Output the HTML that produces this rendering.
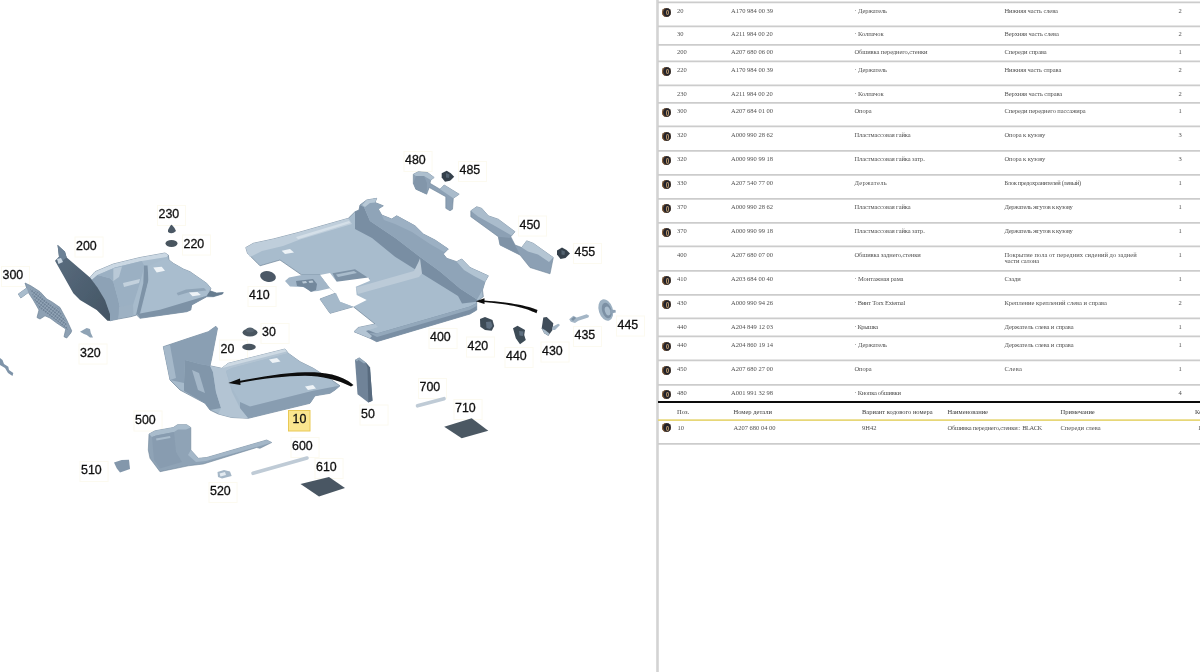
<!DOCTYPE html>
<html lang="ru"><head><meta charset="utf-8"><title>EPC</title>
<style>
html,body{margin:0;padding:0;background:#fff;}
body{width:1200px;height:672px;position:relative;overflow:hidden;font-family:"Liberation Sans",sans-serif;}
#dg{position:absolute;left:0;top:0;width:660px;height:672px;}
.tbl{position:absolute;left:0;top:0;width:1200px;height:672px;font-family:"Liberation Serif",serif;color:#505050;}
.vl{position:absolute;left:656.4px;top:0;width:2.2px;height:672px;background:#d2d2d2;}
.lines{position:absolute;left:0;top:0;}
.hl{position:absolute;left:658px;width:542px;height:1.5px;background:#c9c9c9;}
.hl.blk{background:#111;height:1.8px;}
.hl.yel{background:#e6d36c;height:1.6px;}
.t{position:absolute;font-size:6.5px;line-height:8px;white-space:nowrap;letter-spacing:0;}
.t.h{color:#3a3a3a;}
.t.n{letter-spacing:-0.1px;}
.t.n2{letter-spacing:-0.22px;}
.t.bk{letter-spacing:-0.55px;}
.ic{position:absolute;left:662.4px;width:9px;height:9px;border-radius:50%;background:#22222b;box-shadow:inset 1.1px 0 0.7px 0 #96693a, inset -0.4px 0 0.5px 0 #4a3a2a;}
.ic i{position:absolute;left:3.5px;top:2.3px;width:1.6px;height:3.4px;border-radius:50%;border:0.8px solid #b39267;background:#23232c;}
.blur{filter:blur(0.45px);}
</style></head><body>
<div id="dg"><svg width="660" height="672" viewBox="0 0 660 672">
<defs>
<linearGradient id="gFloor" x1="0" y1="0" x2="1" y2="1"><stop offset="0" stop-color="#b4c6d5"/><stop offset="1" stop-color="#93a8bb"/></linearGradient>
<linearGradient id="gDark" x1="0" y1="0" x2="1" y2="1"><stop offset="0" stop-color="#5b6e80"/><stop offset="1" stop-color="#435464"/></linearGradient>
<linearGradient id="gWall" x1="0" y1="0" x2="0" y2="1"><stop offset="0" stop-color="#8da2b6"/><stop offset="1" stop-color="#71869a"/></linearGradient>
<pattern id="mesh" width="2.6" height="2.6" patternUnits="userSpaceOnUse" patternTransform="rotate(38)"><rect width="2.6" height="2.6" fill="#6f8397"/><path d="M0,0.300 H2.600 M0.300,0 V2.600" stroke="#a3b5c6" stroke-width="0.600"/></pattern>
<filter id="soft"><feGaussianBlur stdDeviation="0.55"/></filter>
<filter id="soft2" x="-5%" y="-5%" width="110%" height="110%"><feGaussianBlur stdDeviation="0.45"/></filter>
</defs>
<g fill="none" stroke="#fcfaf0" stroke-width="1">
<rect x="1.5" y="266.5" width="28" height="20"/>
<rect x="75" y="237" width="28" height="20"/>
<rect x="157.500" y="205.500" width="28" height="20"/>
<rect x="182.5" y="235" width="28" height="20"/>
<rect x="248" y="286.500" width="28" height="20"/>
<rect x="261" y="323.5" width="28" height="20"/>
<rect x="219.5" y="340" width="28" height="20"/>
<rect x="79" y="344" width="28" height="20"/>
<rect x="134" y="411" width="28" height="20"/>
<rect x="80" y="461.500" width="28" height="20"/>
<rect x="209" y="482.500" width="28" height="20"/>
<rect x="291" y="437.500" width="28" height="20"/>
<rect x="315" y="458.500" width="28" height="20"/>
<rect x="360" y="405" width="28" height="20"/>
<rect x="418.500" y="378.500" width="28" height="20"/>
<rect x="454" y="399.500" width="28" height="20"/>
<rect x="404" y="151.500" width="28" height="20"/>
<rect x="458.500" y="161.500" width="28" height="20"/>
<rect x="518.500" y="216" width="28" height="20"/>
<rect x="573.500" y="243.500" width="28" height="20"/>
<rect x="429" y="328.500" width="28" height="20"/>
<rect x="466.500" y="337" width="28" height="20"/>
<rect x="505" y="347.500" width="28" height="20"/>
<rect x="541" y="342" width="28" height="20"/>
<rect x="573.500" y="326.500" width="28" height="20"/>
<rect x="616.500" y="316" width="28" height="20"/>
</g>
<g filter="url(#soft)">
<!-- PART 300 -->
<g id="p300">
<path d="M25,283 L30.800,285.800 L40,291.700 L46.700,299 L51.700,301.700 L60,307.500 L66.700,320 L71.700,330.800 L70.800,333 L66.700,338 L64,336.700 L65.800,329 L56.700,323 L50,318 L45,315.800 L40,319 L37,317.500 L39,310 L33.300,300 L28.300,292.500 L20.800,298 L18.300,294 L26.700,288 Z" fill="#8da0b3" stroke="#6f8498" stroke-width="0.7" stroke-linejoin="round"/>
<path d="M30,288 L39,293 L46,301 L59,309 L66,322 L68,330 L57,321 L47,314 L40,309 L34,299 Z" fill="url(#mesh)"/>
<path d="M18.300,294 L26.700,288 L28.300,292.500 L20.800,298 Z" fill="#a9bccc"/>
</g>
<!-- small clip far left -->
<path d="M0,358 L2.500,360 L4,364 L8.300,366.700 L9,370 L13.300,373 L12.500,376 L8,373 L5,368 L0,365 Z" fill="#7f94a9"/>
<!-- PART 320 -->
<path d="M80,331.700 L86.700,328 L90,329 L90.800,333 L93,337.500 L90,337.500 L86.700,335 L84,334 Z" fill="#8fa3b5"/>
<!-- PART 200 -->
<g id="p200">
<path d="M90,277.5 L95,271.7 L113.3,264 L140,257.5 L165,253 L168.3,255 L169,260 L173.3,263.3 L183.3,269 L190,271.7 L206.7,283.3 L210.8,288.3 L210,290.8 L216.700,293 L223.3,292.5 L222.500,294 L213.3,296.7 L206.7,296.7 L191.7,305 L190.8,310 L186.7,311.700 L140,318.3 L136.7,315 L130.8,316.7 L118.3,319 L110,320.8 L105,300 L97.5,287.5 Z" fill="#a7bbcc" stroke="#6f8498" stroke-width="0.7" stroke-linejoin="round"/>
<!-- rim -->
<path d="M90,277.5 L95,271.7 L113.3,264 L140,257.5 L165,253 L168.3,255 L166.7,257 L141.700,261 L115,267.5 L97.5,275 L91.700,280 Z" fill="#cbd8e3"/>
<!-- left inner wall -->
<path d="M91.700,280 L97.5,275 L110,278.3 L113.3,281.700 L118.3,300 L120,308.3 L118.3,319 L110,320.8 L110,314 L105,300 L97.5,287.5 Z" fill="#8da2b6"/>
<!-- middle facets -->
<path d="M97.5,275 L115,267.5 L141.700,261 L144.500,266 L140,283 L133,305 L120,308.3 L118.3,300 L113.3,281.700 L110,278.3 Z" fill="#9bb0c3"/>
<path d="M113.3,268.5 L122,266.5 L119,277 L113.3,281 Z" fill="#b9c9d7"/>
<path d="M123,283 L140,279 L139,283 L124,287 Z" fill="#c3d1dd"/>
<path d="M119,307 L133,304 L133.500,315.500 L118.500,318.500 Z" fill="#9db1c3"/>
<!-- tunnel ridge -->
<path d="M144,265.500 L147.500,265.500 L148.500,280 L140,313.500 L136,315 L143.300,283.300 Z" fill="#7e93a7"/>
<!-- right floor -->
<path d="M148.500,266 L166.700,258 L169,260 L173.3,263.3 L183.3,269 L190,271.7 L206.7,283.3 L210.8,288.3 L208,292 L206.700,295.800 L190,300.800 L160,309.700 L141,313.500 L148.500,281 Z" fill="#a9bdce"/>
<path d="M176.700,293 L186,289.500 L204,288 L206.500,290.500 L188,292.500 L178,295.500 Z" fill="#90a5b8"/>
<!-- front band -->
<path d="M137.500,314 L160,309.700 L190,300.800 L206.700,295.800 L213.3,296.7 L206.7,296.7 L191.7,305 L190.8,310 L186.7,311.700 L140,318.3 Z" fill="#7d92a6"/>
<path d="M210,290.800 L216.700,293 L223.3,292.5 L222.500,294 L213.3,296.7 L206.700,295.800 Z" fill="#667b8f"/>
<path d="M153.3,267.5 L161.700,266.700 L165,270.800 L156.700,272.500 Z" fill="#eef3f7"/>
<path d="M189,292.500 L197.500,292 L200.800,295 L192.500,296.300 Z" fill="#eef3f7"/>
<!-- dark panel -->
<path d="M57.5,244.700 L65,251.700 L66.700,257.500 L90,277.500 L97.500,287.500 L105,300 L110,314 L110,320.800 L107.500,320.800 L96.700,310 L80,300 L73.3,293.3 L55,260.800 L59,256.700 Z" fill="url(#gDark)"/>
<path d="M57.5,244.700 L65,251.700 L66.700,257.500 L62,261 L57,259.500 L59,256.700 Z" fill="#6c8195"/>
<path d="M57,259 L61,258 L63,262 L58.500,264 Z" fill="#c9d6e1"/>
</g>
<!-- clips 230 220 -->
<path d="M168,230 Q171,224 172,225 Q175,228 176,231 Q172,235 168,232 Z" fill="#4c5965"/>
<ellipse cx="171.5" cy="243.5" rx="6" ry="3.4" fill="#48545f"/>
<!-- clip 410, 30, 20 -->
<ellipse cx="268" cy="276.5" rx="8" ry="5.3" transform="rotate(12 268 276.5)" fill="#4b5966"/>
<ellipse cx="250" cy="332.5" rx="7.5" ry="4" fill="#485560"/>
<ellipse cx="250" cy="330" rx="4" ry="2.5" fill="#56646f"/>
<ellipse cx="249" cy="347" rx="6.8" ry="3.3" fill="#485560"/>

<!-- PART 400 -->
<g id="p400">
<!-- base floor -->
<path d="M245.800,247.500 L253.300,243.300 L273.300,239 L298.300,232.500 L348.300,218.300 L355,211.700 L359,210 L360,205 L366.700,200 L376.700,198.300 L375,202.500 L383.300,205.800 L378.300,209 L381.700,215 L391.700,219 L396.700,215.800 L415,225.800 L423.300,234 L435,240 L448.300,249 L443.300,254 L446.700,258.300 L456.700,261.700 L461.700,259 L470,267.500 L488.300,275.800 L485,281.700 L482.500,290 L483.300,296.700 L476.700,301.700 L476.700,310 L470,314 L376.700,341.700 L370,338.300 L354,331.700 L358.300,327.500 L375,324 L353.300,306.700 L330,313.300 L320,299 L336,293 L330,288.300 L320,275 L301.700,275 L280,260 L260,265.800 L257.500,263.300 L247.500,253.300 Z" fill="#a8bccd" stroke="#6f8498" stroke-width="0.7" stroke-linejoin="round"/>
<!-- left sill lighter -->
<path d="M245.800,247.500 L253.300,243.300 L273.300,239 L298.300,232.500 L348.300,218.300 L352,224 L300,239.500 L283,246 L262,251 L250,257 L247.500,253.300 Z" fill="#bfcedb"/>
<path d="M296,237 L349,221 L350.500,223 L298,239.300 Z" fill="#d4dfe8"/>
<!-- rear wall vertical face -->
<path d="M355,211.700 L359,210 L360,205 L364,207 L370,221 L396,238.500 L420,257 L440,271.500 L460,288.500 L477,299.500 L476.700,301.700 L462,303.500 L458,296 L421.700,273.500 L395,256.700 L372,238 L355,229 Z" fill="#798ea3"/>
<!-- rear wall top ridge (lighter) -->
<path d="M360,205 L366.700,200 L376.700,198.300 L375,202.500 L383.300,205.800 L378.300,209 L381.700,215 L391.700,219 L396.700,215.800 L415,225.800 L423.300,234 L435,240 L448.300,249 L443.300,254 L446.700,258.300 L456.700,261.700 L461.700,259 L470,267.500 L488.300,275.800 L485,281.700 L482.500,290 L477,299.500 L460,288.500 L440,271.500 L420,257 L396,238.500 L370,221 L364,207 Z" fill="#8fa4b8"/>
<path d="M366.700,200 L376.700,198.300 L375,202.500 L370,203 L365,207 L362,205 Z" fill="#b7c8d6"/>
<path d="M456.700,261.700 L461.700,259 L470,267.500 L488.300,275.800 L485,281.700 L474,276 L464,270 Z" fill="#b1c3d2"/>
<path d="M381.700,215 L391.700,219 L396.700,215.800 L415,225.800 L423.300,234 L435,240 L448.300,249 L444,252 L430,244 L412,232 L395,224 L384,220 Z" fill="#9cb0c3"/>
<!-- L-shaped raised channel -->
<path d="M356,287.500 L414,271 L418.500,262 L420,258.300 L422,273.500 L419,277 L358,294 Z" fill="#bccbd8"/>
<!-- front edge band -->
<path d="M376.700,333.500 L470,306.500 L476.700,303 L476.700,310 L470,314 L376.700,341.700 L370,338.300 L354,331.700 L358.300,327.500 L368,330 Z" fill="#7a8fa4"/>
<path d="M376.700,333.500 L470,306.500 L476.700,303 L476.700,306 L470,309.800 L377,337 L369,333 Z" fill="#93a8bb"/>
<path d="M354,331.700 L358.300,327.500 L375,324 L378,327 L366,331 L372,336 L370,338.300 Z" fill="#b4c5d4"/>
<!-- recessed bracket near cutout -->
<path d="M332.500,273.300 L355,269.200 L370,279 L346.700,281.700 L336.700,281.700 Z" fill="#7d92a6"/>
<path d="M336,274.500 L354,271 L357,273 L338,277 Z" fill="#a9bccc"/>
<!-- cutout -->
<path d="M320,275 L330,273 L336.700,281.700 L368.300,277.500 L370,280.800 L355.800,286.700 L356.700,295 L366.700,300 L353.300,306.700 L340,301.700 L335,293 L330,288.300 Z" fill="#ffffff"/>
<!-- bottom-left bracket (410 mount) -->
<path d="M285,281 L289,277.500 L301.700,275 L320,275 L330,288.300 L318,291 L312,291.500 L303,287 L290,286.500 Z" fill="#a2b6c8"/>
<path d="M296,281 L313,279 L317,284 L316,290 L311,292 L304,287 L297,286 Z" fill="#73889c"/>
<path d="M302,281.500 L306,281 L307,283 L303,283.500 Z M308.500,281 L312.500,280.500 L313.500,282.500 L309.500,283 Z" fill="#b9c9d6"/>
<path d="M281.700,250.800 L290,249 L294,252.500 L285,254 Z" fill="#eef3f7"/>
<!-- left lower extension -->
<path d="M320,299 L336,293 L340,301.700 L353.300,306.700 L330,313.300 Z" fill="#a5b9ca"/>
</g>
<!-- PART 480 -->
<path d="M413.300,174.200 L418.300,171.700 L427.500,172.500 L434.200,177.500 L430.800,180 L430,183.300 L440,189.200 L444.200,185 L459.200,194.200 L453.300,198.300 L452.500,209.200 L450,210.800 L445.800,208.300 L445.800,196.700 L429.200,187.500 L426.700,194.200 L415.800,189.200 L413.300,183.300 Z" fill="#8ca0b4" stroke="#6f8498" stroke-width="0.6" stroke-linejoin="round"/>
<path d="M413.300,174.200 L418.300,171.700 L427.500,172.500 L434.200,177.500 L430.800,180 L424,176 L416,176 Z" fill="#adbfce"/>
<path d="M440,189.200 L444.200,185 L459.200,194.200 L453.300,198.300 Z" fill="#a9bbcb"/>
<path d="M416,176 L424,176 L427,183 L426.700,194.200 L415.800,189.200 L413.300,183.300 Z" fill="#8296aa"/>
<!-- 485 clip -->
<path d="M441.700,173.300 L446.700,170.800 L450.800,173.300 L454.200,176.700 L451.700,179.200 L450,180.800 L445,181.700 L441.700,177.500 Z" fill="#35414c"/>
<path d="M446,173 L449.500,174.500 L449,178 L446,177.500 Z" fill="#53626f"/>
<!-- PART 450 -->
<path d="M470.800,210.800 L476.700,206.700 L481.700,208.300 L488.300,215.800 L498.300,219.200 L515,231.700 L510.800,236.700 L515,245 L521.700,247.500 L526.700,240.800 L533.300,243.300 L553.300,257.500 L550,273.800 L530,267.500 L520,255 L500,245 L498.300,236.700 L470.800,216.700 Z" fill="#8ca0b4" stroke="#6f8498" stroke-width="0.6" stroke-linejoin="round"/>
<path d="M470.800,210.800 L476.700,206.700 L481.700,208.300 L488.300,215.800 L498.300,219.200 L515,231.700 L511.500,235.500 L495,226 L478,216.500 Z" fill="#aabccc"/>
<path d="M521.700,247.500 L526.700,240.800 L533.300,243.300 L553.300,257.500 L549,262 L538,254.500 L528,251.500 Z" fill="#b4c5d3"/>
<path d="M498.300,236.700 L511,238 L515,245 L520,255 L500,245 Z" fill="#7f93a7"/>
<!-- 455 clip -->
<path d="M557,250.500 L562,247.500 L566.500,250 L570,253.500 L567.500,256 L565.500,258 L560.500,259 L557,254.500 Z" fill="#35414c"/>
<path d="M561.500,250 L565,251.500 L564.500,255 L561.500,254.500 Z" fill="#53626f"/>
<!-- clips 420 440 430 435 445 -->
<path d="M480,319 L485,317 L492.500,320 L494.200,326 L491.700,330.800 L485,330 L480.300,326.700 Z" fill="#3e4b57"/>
<path d="M486,322 L491,321.500 L492.500,326 L490,329 L486.500,328 Z" fill="#5f7081"/>
<path d="M513,328.300 L517.500,325.800 L525,330 L524.200,335 L525.800,340 L520,344.200 L515.800,338.300 Z" fill="#3e4b57"/>
<path d="M519,331 L523.500,331.500 L523,336 L519.500,335.500 Z" fill="#5f7081"/>
<path d="M543.300,317.500 L546.700,317 L553.300,323.300 L552.500,330 L548.300,335.800 L544.200,333.300 L541.700,328.300 Z" fill="#414e5a"/>
<path d="M541.700,328.300 L544.200,333.300 L548.300,335.800 L549.500,333.500 L545,330 Z" fill="#a7b9c8"/>
<path d="M552.500,326.700 L558.300,323.700 L560,325 L555,330 L552,330 Z" fill="#a3b5c5"/>
<path d="M569.200,319.200 L573.300,315.800 L576.700,317.500 L586.700,314.200 L589.200,315.800 L588.300,317.500 L578.300,320.800 L575,323 L570.800,321.700 Z" fill="#a4b6c6"/>
<path d="M571,319 L574,316.800 L576,318 L573,321 Z" fill="#7d91a4"/>
<ellipse cx="605.800" cy="310" rx="7" ry="11" transform="rotate(-18 605.800 310)" fill="#9db1c2"/>
<ellipse cx="606.800" cy="310.500" rx="4.600" ry="8" transform="rotate(-18 606.800 310.500)" fill="#7b90a4"/>
<ellipse cx="607.600" cy="311" rx="2.600" ry="4.600" transform="rotate(-18 607.600 311)" fill="#a9bccc"/>
<path d="M610,309.500 L615.500,310 L615.800,312.500 L610.500,313.500 Z" fill="#8ea2b5"/>

<!-- PART 10 -->
<g id="p10">
<path d="M163.300,346.700 L188.300,338.300 L208.300,331.700 L215.800,326.300 L217.500,328.300 L211.700,358.300 L210,365.800 L221.700,368.300 L228.300,363.300 L285,349 L288.300,353.300 L300,361.700 L313.300,368.300 L331.700,380 L340,385.800 L335,390 L330,393.300 L315,395.800 L310,403.300 L248.300,418.300 L231.700,417.500 L218.300,414 L210,410 L205,403.300 L180,390 L170,380 Z" fill="#a6bacb" stroke="#6f8498" stroke-width="0.7" stroke-linejoin="round"/>
<!-- left wall -->
<path d="M163.300,346.700 L188.300,338.300 L208.300,331.700 L215.800,326.300 L217.500,328.300 L211.700,358.300 L210,365.800 L200,364 L185,360 L184,383 L170,380 Z" fill="#8a9fb3"/>
<path d="M163.300,346.700 L170,345 L176,378 L170,380 Z" fill="#a5b8c9"/>
<!-- step block -->
<path d="M185,360 L200,364 L210,365.800 L213,372 L216,392 L221,408 L210,410 L205,403.300 L184,391 L184,383 Z" fill="#8196aa"/>
<path d="M192,370 L199,373 L205,393 L198,390 Z" fill="#a4b7c8"/>
<!-- sill light strip -->
<path d="M210,365.800 L221.700,368.300 L228.300,363.300 L285,349 L288.300,353.300 L232,368 L226,371 L232,392 L240,408 L248.300,418.300 L231.700,417.500 L218.300,414 L221,408 L216,392 L213,372 Z" fill="#b3c4d3"/>
<path d="M221.700,368.300 L228.300,363.300 L285,349 L286.500,351.500 L230,366 Z" fill="#cdd9e3"/>
<!-- main floor -->
<path d="M232,368 L288.300,353.300 L300,361.700 L313.300,368.300 L331.700,380 L335,386.500 L312,391 L250,406.500 L240,402 L232,388 L226,371 Z" fill="#a9bdce"/>
<!-- front band -->
<path d="M240,402 L250,406.500 L312,391 L335,386.500 L340,385.800 L335,390 L330,393.300 L315,395.800 L310,403.300 L248.300,418.300 L240,408 Z" fill="#889db1"/>
<path d="M269,359.500 L277,358 L280.500,361.500 L272.500,363 Z" fill="#eef3f7"/>
<path d="M305,386.500 L313,385 L316,388.500 L308,390 Z" fill="#eef3f7"/>
</g>
<!-- arrow over part 10 -->
<path d="M353.500,385 C340,373 320,372 305,372.300 C285,372.800 262,376.500 238,381.300 L238.500,383 C262,378.800 286,375.800 305,375.800 C322,376 338,380 351,386.500 Z" fill="#0a0a0a"/>
<path d="M228.300,383 L240,378.500 L240.500,385 Z" fill="#0a0a0a"/>
<!-- PART 50 -->
<path d="M355,360 L359.200,357.500 L365.800,362.500 L370,367.500 L372.500,400.800 L368.300,402.500 L357.500,394.200 Z" fill="#6f8398"/>
<path d="M365.800,362.500 L370,367.500 L372.500,400.800 L368.300,402.500 L367.500,368 Z" fill="#586b7e"/>
<path d="M355,360 L359.200,357.500 L365.800,362.500 L364,363.500 L358.500,360 L357,361.500 Z" fill="#94a8ba"/>
<!-- arrow to part 400 -->
<path d="M537.500,310 C528,306 512,302.500 484,300.500 L484,302 C511,304.300 526,308 536.500,313.300 Z" fill="#0a0a0a"/>
<path d="M475.800,301.200 L484.500,298.300 L484.500,304 Z" fill="#0a0a0a"/>

<!-- PART 500 -->
<path d="M149,434 L155,430.800 L173.300,427.500 L177.500,424.700 L186.700,424.700 L190.800,427.500 L190.800,450 L198.300,458.300 L206.700,457.500 L266.700,440 L271.700,442.500 L260,448.300 L256.700,447.500 L203.300,464 L188.300,465.800 L160,471.700 L155,465 L150,458.300 L148.300,450 Z" fill="#8fa3b6" stroke="#6f8498" stroke-width="0.6" stroke-linejoin="round"/>
<path d="M149,434 L155,430.800 L173.300,427.500 L177.500,424.700 L186.700,424.700 L190.800,427.500 L186,429.500 L178,429.500 L174,432 L156,435.500 L152,437 Z" fill="#a9bccc"/>
<path d="M152,437 L156,435.500 L174,432 L176,452 L182,462 L160,468.500 L154,460 Z" fill="#889cb0"/>
<path d="M156,438.500 L170,436 L170.500,438 L156.500,440.500 Z" fill="#a9bccc"/>
<path d="M190.800,450 L198.300,458.300 L206.700,457.500 L266.700,440 L271.700,442.500 L260,446 L206,461 L196,462 L188,455 Z" fill="#a4b7c8"/>
<!-- 510 -->
<path d="M114,462.500 L121.700,460 L129,459.700 L130,469 L120,472.500 L116.700,468.300 Z" fill="#8397ab"/>
<!-- 520 -->
<path d="M217.500,472 L224,470 L230,471.500 L231.700,476 L222,478.500 L218,477 Z" fill="#a5b7c7"/><path d="M219.500,473.500 L225,472 L226,475 L220.500,476.500 Z" fill="#e4ebf1"/>
<!-- strips -->
<line x1="253" y1="473.300" x2="307" y2="458" stroke="#bfcbd6" stroke-width="3.6" stroke-linecap="round"/>
<line x1="417.500" y1="405.800" x2="444" y2="398.700" stroke="#bfcbd6" stroke-width="3.600" stroke-linecap="round"/>
<!-- pads -->
<path d="M300.5,484 L329,477 L345,488 L319,496.5 Z" fill="#4a5763"/>
<path d="M444.200,426.700 L471.700,418.300 L488.300,430.800 L461.700,438.300 Z" fill="#4b5864"/>
</g>

<!-- labels -->
<g font-family="Liberation Sans, Arial, sans-serif" font-size="12.4" fill="#111" stroke="#111" stroke-width="0.3" filter="url(#soft2)">
<rect x="288.5" y="410.500" width="21.5" height="20.500" fill="#fbe68f" stroke="#e9c955" stroke-width="1"/>
<text x="2.5" y="279.1">300</text>
<text x="76" y="249.6">200</text>
<text x="158.500" y="218.1">230</text>
<text x="183.500" y="247.6">220</text>
<text x="249" y="299.1">410</text>
<text x="262" y="336.1">30</text>
<text x="220.500" y="352.6">20</text>
<text x="80" y="356.6">320</text>
<text x="135" y="423.6">500</text>
<text x="81" y="474.1">510</text>
<text x="210" y="495.1">520</text>
<text x="292" y="450.1">600</text>
<text x="316" y="471.1">610</text>
<text x="292.500" y="422.6">10</text>
<text x="361" y="417.6">50</text>
<text x="419.500" y="391.1">700</text>
<text x="455" y="412.1">710</text>
<text x="405" y="164.1">480</text>
<text x="459.500" y="174.1">485</text>
<text x="519.500" y="228.6">450</text>
<text x="574.500" y="256.1">455</text>
<text x="430" y="341.1">400</text>
<text x="467.500" y="349.6">420</text>
<text x="506" y="360.1">440</text>
<text x="542" y="354.6">430</text>
<text x="574.500" y="339.1">435</text>
<text x="617.500" y="328.6">445</text>
</g>
</svg>
</div>
<div class="blur">
<div class="tbl">
<svg class="lines" width="1200" height="672" viewBox="0 0 1200 672">
<line x1="657.5" y1="0" x2="657.5" y2="672" stroke="#d3d3d3" stroke-width="2.6"/>
<line x1="658" y1="2.3" x2="1200" y2="2.3" stroke="#cccccc" stroke-width="1.8"/>
<line x1="658" y1="26.3" x2="1200" y2="26.3" stroke="#cccccc" stroke-width="1.8"/>
<line x1="658" y1="44.8" x2="1200" y2="44.8" stroke="#cccccc" stroke-width="1.8"/>
<line x1="658" y1="61.3" x2="1200" y2="61.3" stroke="#cccccc" stroke-width="1.8"/>
<line x1="658" y1="85.3" x2="1200" y2="85.3" stroke="#cccccc" stroke-width="1.8"/>
<line x1="658" y1="102.8" x2="1200" y2="102.8" stroke="#cccccc" stroke-width="1.8"/>
<line x1="658" y1="126.3" x2="1200" y2="126.3" stroke="#cccccc" stroke-width="1.8"/>
<line x1="658" y1="150.8" x2="1200" y2="150.8" stroke="#cccccc" stroke-width="1.8"/>
<line x1="658" y1="174.8" x2="1200" y2="174.8" stroke="#cccccc" stroke-width="1.8"/>
<line x1="658" y1="198.8" x2="1200" y2="198.8" stroke="#cccccc" stroke-width="1.8"/>
<line x1="658" y1="222.8" x2="1200" y2="222.8" stroke="#cccccc" stroke-width="1.8"/>
<line x1="658" y1="246.3" x2="1200" y2="246.3" stroke="#cccccc" stroke-width="1.8"/>
<line x1="658" y1="270.8" x2="1200" y2="270.8" stroke="#cccccc" stroke-width="1.8"/>
<line x1="658" y1="294.8" x2="1200" y2="294.8" stroke="#cccccc" stroke-width="1.8"/>
<line x1="658" y1="318.3" x2="1200" y2="318.3" stroke="#cccccc" stroke-width="1.8"/>
<line x1="658" y1="336.3" x2="1200" y2="336.3" stroke="#cccccc" stroke-width="1.8"/>
<line x1="658" y1="360.3" x2="1200" y2="360.3" stroke="#cccccc" stroke-width="1.8"/>
<line x1="658" y1="384.8" x2="1200" y2="384.8" stroke="#cccccc" stroke-width="1.8"/>
<line x1="658" y1="402.1" x2="1200" y2="402.1" stroke="#0c0c0c" stroke-width="2"/>
<line x1="658" y1="420.1" x2="1200" y2="420.1" stroke="#e7d778" stroke-width="1.8"/>
<line x1="658" y1="443.9" x2="1200" y2="443.9" stroke="#cccccc" stroke-width="1.8"/>
</svg>
<div class="ic" style="top:7.6000000000000005px"><i></i></div>
<span class="t" style="left:677px;top:6.8px">20</span>
<span class="t" style="left:731px;top:6.8px">A170 984 00 39</span>
<span class="t n" style="left:854.5px;top:6.8px">· Держатель</span>
<span class="t n" style="left:1004.5px;top:6.8px">Нижняя часть слева</span>
<span class="t" style="left:1178.5px;top:6.8px">2</span>
<span class="t" style="left:677px;top:30.3px">30</span>
<span class="t" style="left:731px;top:30.3px">A211 984 00 20</span>
<span class="t n" style="left:854.5px;top:30.3px">· Колпачок</span>
<span class="t n" style="left:1004.5px;top:30.3px">Верхняя часть слева</span>
<span class="t" style="left:1178.5px;top:30.3px">2</span>
<span class="t" style="left:677px;top:48.3px">200</span>
<span class="t" style="left:731px;top:48.3px">A207 680 06 00</span>
<span class="t n" style="left:854.5px;top:48.3px">Обшивка переднего,стенки</span>
<span class="t n" style="left:1004.5px;top:48.3px">Спереди справа</span>
<span class="t" style="left:1178.5px;top:48.3px">1</span>
<div class="ic" style="top:66.60000000000001px"><i></i></div>
<span class="t" style="left:677px;top:65.8px">220</span>
<span class="t" style="left:731px;top:65.8px">A170 984 00 39</span>
<span class="t n" style="left:854.5px;top:65.8px">· Держатель</span>
<span class="t n" style="left:1004.5px;top:65.8px">Нижняя часть справа</span>
<span class="t" style="left:1178.5px;top:65.8px">2</span>
<span class="t" style="left:677px;top:89.8px">230</span>
<span class="t" style="left:731px;top:89.8px">A211 984 00 20</span>
<span class="t n" style="left:854.5px;top:89.8px">· Колпачок</span>
<span class="t n" style="left:1004.5px;top:89.8px">Верхняя часть справа</span>
<span class="t" style="left:1178.5px;top:89.8px">2</span>
<div class="ic" style="top:108.10000000000001px"><i></i></div>
<span class="t" style="left:677px;top:107.3px">300</span>
<span class="t" style="left:731px;top:107.3px">A207 684 01 00</span>
<span class="t n" style="left:854.5px;top:107.3px">Опора</span>
<span class="t n" style="left:1004.5px;top:107.3px">Спереди переднего пассажира</span>
<span class="t" style="left:1178.5px;top:107.3px">1</span>
<div class="ic" style="top:132.1px"><i></i></div>
<span class="t" style="left:677px;top:131.3px">320</span>
<span class="t" style="left:731px;top:131.3px">A000 990 28 62</span>
<span class="t n" style="left:854.5px;top:131.3px">Пластмассовая гайка</span>
<span class="t n" style="left:1004.5px;top:131.3px">Опора к кузову</span>
<span class="t" style="left:1178.5px;top:131.3px">3</span>
<div class="ic" style="top:156.1px"><i></i></div>
<span class="t" style="left:677px;top:155.3px">320</span>
<span class="t" style="left:731px;top:155.3px">A000 990 99 18</span>
<span class="t n" style="left:854.5px;top:155.3px">Пластмассовая гайка затр.</span>
<span class="t n" style="left:1004.5px;top:155.3px">Опора к кузову</span>
<span class="t" style="left:1178.5px;top:155.3px">3</span>
<div class="ic" style="top:180.1px"><i></i></div>
<span class="t" style="left:677px;top:179.3px">330</span>
<span class="t" style="left:731px;top:179.3px">A207 540 77 00</span>
<span class="t n" style="letter-spacing:0.300px;left:854.5px;top:179.3px">Держатель</span>
<span class="t n" style="letter-spacing:-0.329px;left:1004.5px;top:179.3px">Блок предохранителей (левый)</span>
<span class="t" style="left:1178.5px;top:179.3px">1</span>
<div class="ic" style="top:204.1px"><i></i></div>
<span class="t" style="left:677px;top:203.3px">370</span>
<span class="t" style="left:731px;top:203.3px">A000 990 28 62</span>
<span class="t n" style="left:854.5px;top:203.3px">Пластмассовая гайка</span>
<span class="t n" style="letter-spacing:-0.300px;left:1004.5px;top:203.3px">Держатель жгутов к кузову</span>
<span class="t" style="left:1178.5px;top:203.3px">1</span>
<div class="ic" style="top:228.1px"><i></i></div>
<span class="t" style="left:677px;top:227.3px">370</span>
<span class="t" style="left:731px;top:227.3px">A000 990 99 18</span>
<span class="t n" style="left:854.5px;top:227.3px">Пластмассовая гайка затр.</span>
<span class="t n" style="letter-spacing:-0.300px;left:1004.5px;top:227.3px">Держатель жгутов к кузову</span>
<span class="t" style="left:1178.5px;top:227.3px">1</span>
<span class="t" style="left:677px;top:250.8px">400</span>
<span class="t" style="left:731px;top:250.8px">A207 680 07 00</span>
<span class="t n" style="left:854.5px;top:250.8px">Обшивка заднего,стенки</span>
<span class="t n" style="letter-spacing:0.040px;left:1004.5px;top:250.8px">Покрытие пола от передних сидений до задней</span>
<span class="t n" style="left:1004.5px;top:257.3px">части салона</span>
<span class="t" style="left:1178.5px;top:250.8px">1</span>
<div class="ic" style="top:276.09999999999997px"><i></i></div>
<span class="t" style="left:677px;top:275.3px">410</span>
<span class="t" style="left:731px;top:275.3px">A203 684 00 40</span>
<span class="t n" style="left:854.5px;top:275.3px">· Монтажная рама</span>
<span class="t n" style="left:1004.5px;top:275.3px">Сзади</span>
<span class="t" style="left:1178.5px;top:275.3px">1</span>
<div class="ic" style="top:300.09999999999997px"><i></i></div>
<span class="t" style="left:677px;top:299.3px">430</span>
<span class="t" style="left:731px;top:299.3px">A000 990 94 26</span>
<span class="t n" style="letter-spacing:-0.245px;left:854.5px;top:299.3px">· Винт Torx External</span>
<span class="t n" style="letter-spacing:-0.000px;left:1004.5px;top:299.3px">Крепление креплений слева и справа</span>
<span class="t" style="left:1178.5px;top:299.3px">2</span>
<span class="t" style="left:677px;top:322.8px">440</span>
<span class="t" style="left:731px;top:322.8px">A204 849 12 03</span>
<span class="t n" style="letter-spacing:-0.425px;left:854.5px;top:322.8px">· Крышка</span>
<span class="t n" style="left:1004.5px;top:322.8px">Держатель слева и справа</span>
<span class="t" style="left:1178.5px;top:322.8px">1</span>
<div class="ic" style="top:341.59999999999997px"><i></i></div>
<span class="t" style="left:677px;top:340.8px">440</span>
<span class="t" style="left:731px;top:340.8px">A204 860 19 14</span>
<span class="t n" style="left:854.5px;top:340.8px">· Держатель</span>
<span class="t n" style="left:1004.5px;top:340.8px">Держатель слева и справа</span>
<span class="t" style="left:1178.5px;top:340.8px">1</span>
<div class="ic" style="top:365.59999999999997px"><i></i></div>
<span class="t" style="left:677px;top:364.8px">450</span>
<span class="t" style="left:731px;top:364.8px">A207 680 27 00</span>
<span class="t n" style="left:854.5px;top:364.8px">Опора</span>
<span class="t n" style="letter-spacing:0.240px;left:1004.5px;top:364.8px">Слева</span>
<span class="t" style="left:1178.5px;top:364.8px">1</span>
<div class="ic" style="top:389.59999999999997px"><i></i></div>
<span class="t" style="left:677px;top:388.8px">480</span>
<span class="t" style="left:731px;top:388.8px">A001 991 32 98</span>
<span class="t n" style="letter-spacing:-0.281px;left:854.5px;top:388.8px">· Кнопка обшивки</span>
<span class="t" style="left:1178.5px;top:388.8px">4</span>
<span class="t h" style="left:677px;top:407.8px">Поз.</span>
<span class="t h" style="left:733.5px;top:407.8px">Номер детали</span>
<span class="t h" style="left:862px;top:407.8px">Вариант кодового номера</span>
<span class="t h" style="left:947.5px;top:407.8px">Наименование</span>
<span class="t h" style="left:1060.5px;top:407.8px">Примечание</span>
<span class="t h" style="left:1195px;top:407.8px">Кол.</span>
<div class="ic" style="top:423.4px"><i></i></div>
<span class="t" style="left:677.5px;top:423.8px">10</span>
<span class="t" style="left:733.5px;top:423.8px">A207 680 04 00</span>
<span class="t" style="left:862px;top:423.8px">9H42</span>
<span class="t n2" style="left:947.5px;top:423.8px">Обшивка переднего,стенки</span>
<span class="t" style="left:1018.2px;top:423.8px">:</span>
<span class="t bk" style="left:1022.3px;top:423.8px">BLACK</span>
<span class="t" style="left:1060.5px;top:423.8px">Спереди слева</span>
<span class="t" style="left:1198px;top:423.8px">1</span>
</div>
</div>
</body></html>
